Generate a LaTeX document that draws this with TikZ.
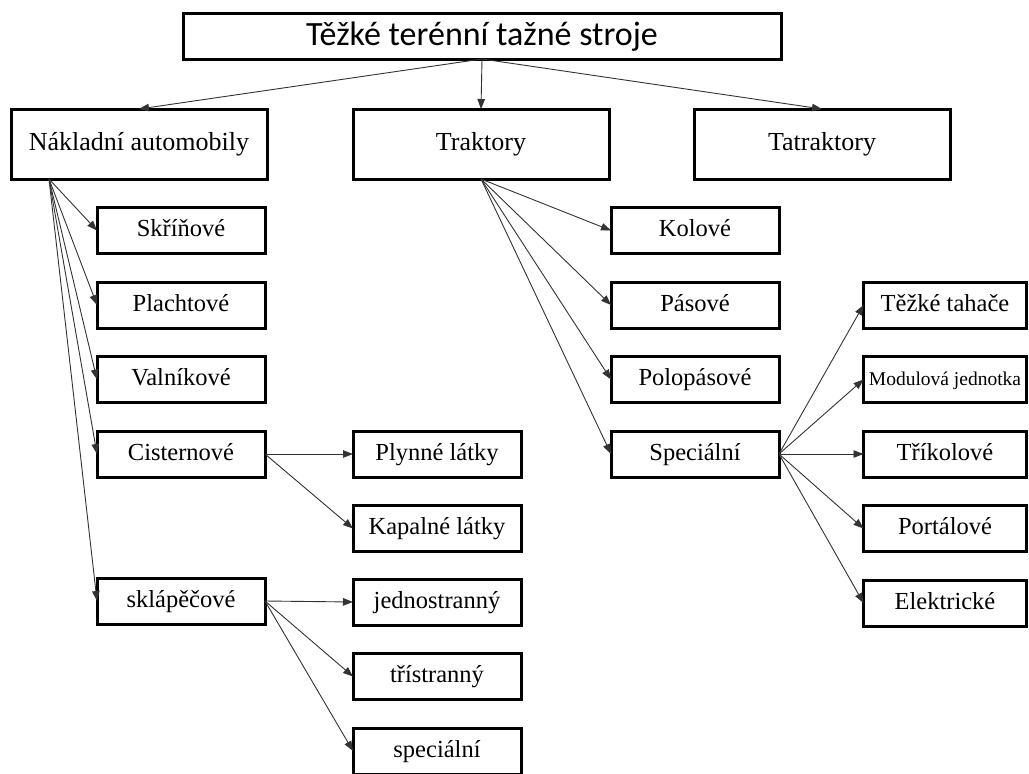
\documentclass[tikz,border=0pt]{standalone}
\usepackage{fontspec}
\setmainfont{Liberation Serif}
\newfontfamily\titlefont{Carlito}
\usetikzlibrary{arrows.meta,positioning,calc}
\definecolor{cBoxLine}{HTML}{000000}
\definecolor{cLink}{HTML}{333333}

\begin{document}
\begin{tikzpicture}[
  x=1pt, y=-1pt,
  >={Triangle[length=10pt,width=7.5pt]},
  titlebox/.style={
    draw=cBoxLine, line width=3pt, inner sep=0pt, outer sep=0pt,
    minimum width=598pt, minimum height=46pt, text height=25pt, text depth=6pt,
    font=\titlefont\fontsize{34}{36}\selectfont,
  },
  catbox/.style={
    draw=cBoxLine, line width=3pt, inner sep=0pt, outer sep=0pt,
    minimum width=256pt, minimum height=70pt, text height=18pt, text depth=6pt,
    font=\fontsize{26}{30}\selectfont,
  },
  subbox/.style={
    draw=cBoxLine, line width=3pt, inner sep=0pt, outer sep=0pt,
    minimum width=168pt, minimum height=46pt, text height=17pt, text depth=5pt,
    font=\fontsize{24.5}{28}\selectfont,
  },
  link/.style={->, cLink, line width=0.9pt},
]
\useasboundingbox (0,0) rectangle (1029,774);

% --- root and the three main groups ---
\node[titlebox] (title) at (482,36) {Těžké terénní tažné stroje};
\node[catbox] (nak) at (139,144) {Nákladní automobily};
\node[catbox] (trak) at (481,144) {Traktory};
\node[catbox] (tatra) at (822,144) {Tatraktory};

% --- trucks (left column) ---
\node[subbox] (skrin) at (181,230.5) {Skříňové};
\node[subbox, below=28.5pt of skrin] (placht) {Plachtové};
\node[subbox, below=28.5pt of placht] (valnik) {Valníkové};
\node[subbox, below=28.5pt of valnik] (cistern) {Cisternové};
\node[subbox] (sklap) at (181,601) {sklápěčové};

% tank and tipper variants
\node[subbox] (plyn) at (437,454) {Plynné látky};
\node[subbox, below=28.5pt of plyn] (kapal) {Kapalné látky};
\node[subbox] (jedno) at (437,602) {jednostranný};
\node[subbox, below=28.5pt of jedno] (tri) {třístranný};
\node[subbox, below=28.5pt of tri] (specS) {speciální};

% --- tractors ---
\node[subbox] (kol) at (695,230.5) {Kolové};
\node[subbox, below=28.5pt of kol] (pas) {Pásové};
\node[subbox, below=28.5pt of pas] (polo) {Polopásové};
\node[subbox, below=28.5pt of polo] (specT) {Speciální};

% special tractors (box edge runs to the page edge)
\node[subbox, minimum width=163pt] (tezke) at (945,305) {Těžké tahače};
\node[subbox, minimum width=163pt, below=28.5pt of tezke,
      font=\fontsize{19.5}{22}\selectfont] (modul) {Modulová jednotka};
\node[subbox, minimum width=163pt, below=28.5pt of modul] (trikol) {Tříkolové};
\node[subbox, minimum width=163pt, below=28.5pt of trikol] (portal) {Portálové};
\node[subbox, minimum width=163pt, below=28.5pt of portal] (elektr) {Elektrické};

% --- connectors ---
\coordinate (nakfoot) at ($(nak.south west)+(38,0)$);

\foreach \t in {nak,trak,tatra}
  \draw[link] (title.south) -- (\t.north);
\foreach \t in {skrin,placht,valnik,cistern,sklap}
  \draw[link] (nakfoot) -- (\t.west);
\foreach \t in {plyn,kapal}
  \draw[link] (cistern.east) -- (\t.west);
\foreach \t in {jedno,tri,specS}
  \draw[link] (sklap.east) -- (\t.west);
\foreach \t in {kol,pas,polo,specT}
  \draw[link] (trak.south) -- (\t.west);
\foreach \t in {tezke,modul,trikol,portal,elektr}
  \draw[link] (specT.east) -- (\t.west);

\end{tikzpicture}
\end{document}
